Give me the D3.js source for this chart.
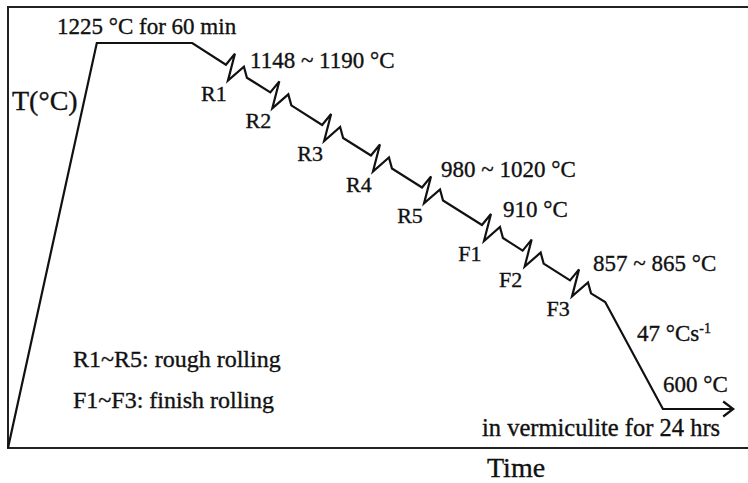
<!DOCTYPE html>
<html>
<head>
<meta charset="utf-8">
<script src="https://cdn.jsdelivr.net/npm/d3@7"></script>
<style>
  body { margin: 0; background: #fff; }
  svg text { font-family: 'Liberation Serif', 'Times New Roman', serif; fill: #111; stroke: #111; stroke-width: 0.35px; }
</style>
</head>
<body>
<svg class="chart" width="748" height="483"></svg>
<script>
// schematic process route (time in arbitrary units, temperature in degC)
var routeTimes = [0, 12.0, 24.9, 80.7, 88.5, 98.0];
var routeTemps = [20, 1225, 1225, 860, 600, 600];

// rolling passes sitting on the cooling line
var passNames = ['R1', 'R2', 'R3', 'R4', 'R5', 'F1', 'F2', 'F3'];
var passTimes = [30.8, 36.8, 43.8, 50.4, 57.3, 65.4, 70.9, 77.3];
var passTemps = [1186, 1147, 1101, 1058, 1013, 960, 924, 882];

var notes = ['1225 °C for 60 min', '1148 ~ 1190 °C', '980 ~ 1020 °C', '910 °C',
             '857 ~ 865 °C', '600 °C', 'in vermiculite for 24 hrs'];
var legendLines = ['R1~R5: rough rolling', 'F1~F3: finish rolling'];

var svg = d3.select('.chart');

var x = d3.scaleLinear()
    .domain([0, 100])
    .range([8, 748]);

// schematic, so the temperature axis is piecewise
var y = d3.scaleLinear()
    .domain([20, 600, 860, 1225])
    .range([448, 409, 302, 43]);

// frame (top, left and bottom edges)
svg.append('path')
  .attr('d', 'M' + x(100) + ',7 H' + x(0) + ' V' + y(20) + ' H' + x(100))
  .attr('fill', 'none')
  .attr('stroke', '#222')
  .attr('stroke-width', 2);

// zigzag break drawn at every pass (offsets in px)
var zig = [[-10, -6], [-1, -17], [-8, 10], [8, -4], [11, 7]];

var pts = [];
for (var i = 0; i < 3; i++) pts.push([x(routeTimes[i]), y(routeTemps[i])]);
passTimes.forEach(function(t, j) {
  var cx = x(t), cy = y(passTemps[j]);
  zig.forEach(function(o) { pts.push([cx + o[0], cy + o[1]]); });
});
for (var i = 3; i < routeTimes.length; i++) pts.push([x(routeTimes[i]), y(routeTemps[i])]);

var line = d3.line();

svg.append('path')
  .attr('d', line(pts))
  .attr('fill', 'none')
  .attr('stroke', '#111')
  .attr('stroke-width', 2.2)
  .attr('stroke-linejoin', 'miter');

// open arrow head at the end of the route
var tip = pts[pts.length - 1];
svg.append('path')
  .attr('d', line([[tip[0] - 10, tip[1] - 7.5], tip, [tip[0] - 10, tip[1] + 7.5]]))
  .attr('fill', 'none')
  .attr('stroke', '#111')
  .attr('stroke-width', 2.2);

// pass labels
svg.selectAll('.pass')
  .data(passNames)
  .enter().append('text')
  .attr('class', 'pass')
  .attr('x', function(d, i) { return x(passTimes[i]) - 22; })
  .attr('y', function(d, i) { return y(passTemps[i]) + 30; })
  .attr('text-anchor', 'middle')
  .style('font-size', '22px')
  .text(function(d) { return d; });

// annotations
var notePos = [[57, 34], [250, 68], [441, 177], [503, 217], [593, 271], [663, 392], [482, 436]];
var noteSize = [23, 23, 23, 23, 23, 23, 24.5];
svg.selectAll('.note')
  .data(notes)
  .enter().append('text')
  .attr('class', 'note')
  .attr('x', function(d, i) { return notePos[i][0]; })
  .attr('y', function(d, i) { return notePos[i][1]; })
  .style('font-size', function(d, i) { return noteSize[i] + 'px'; })
  .text(function(d) { return d; });

var rate = svg.append('text')
  .attr('x', 637)
  .attr('y', 341)
  .style('font-size', '23px');
rate.append('tspan').text('47 °Cs');
rate.append('tspan')
  .attr('dy', -8)
  .style('font-size', '14px')
  .text('-1');

svg.selectAll('.legend')
  .data(legendLines)
  .enter().append('text')
  .attr('class', 'legend')
  .attr('x', 73)
  .attr('y', function(d, i) { return 367 + i * 41; })
  .style('font-size', '24px')
  .text(function(d) { return d; });

// axis titles
svg.append('text')
  .attr('x', 12)
  .attr('y', 110)
  .style('font-size', '28px')
  .text('T(°C)');

svg.append('text')
  .attr('x', 487)
  .attr('y', 477)
  .style('font-size', '28px')
  .text('Time');
</script>
</body>
</html>
